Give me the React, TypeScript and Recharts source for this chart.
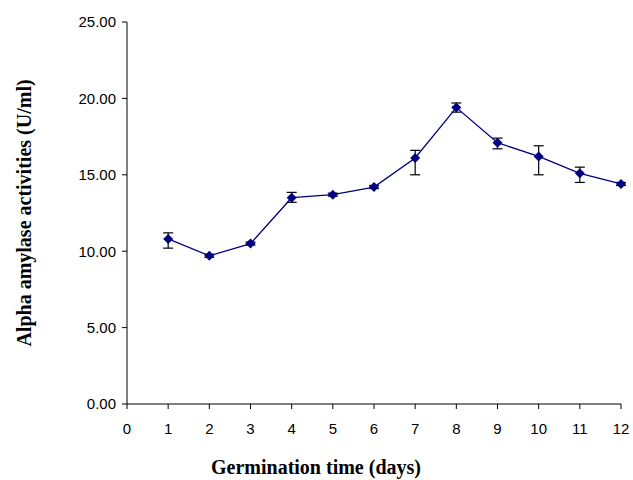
import React from "react";
import { LineChart, Line, XAxis, YAxis, ErrorBar } from "recharts";

const days = [1, 2, 3, 4, 5, 6, 7, 8, 9, 10, 11, 12];
const activity = [10.8, 9.7, 10.5, 13.5, 13.7, 14.2, 16.1, 19.4, 17.1, 16.2, 15.1, 14.4];
const errLow = [0.6, 0.1, 0.1, 0.3, 0.1, 0.1, 1.1, 0.3, 0.4, 1.2, 0.6, 0.1];
const errHigh = [0.4, 0.1, 0.1, 0.35, 0.1, 0.1, 0.5, 0.3, 0.3, 0.7, 0.4, 0.1];
const yTicks = [0, 5, 10, 15, 20, 25];
const xTicks = [0, 1, 2, 3, 4, 5, 6, 7, 8, 9, 10, 11, 12];

const data = days.map((d, i) => ({ day: d, value: activity[i], err: [errLow[i], errHigh[i]] }));

const Diamond = (p: any) => {
  const { cx, cy } = p;
  return <path d={`M${cx},${cy - 5}L${cx + 5},${cy}L${cx},${cy + 5}L${cx - 5},${cy}Z`} fill="#000080" />;
};

const tickStyle = { fontFamily: "Liberation Sans, Arial", fontSize: 15, fill: "#000" };

export default function App() {
  return (
    <div style={{ position: "absolute", left: 0, top: 0, background: "#fff" }}>
      <LineChart width={633} height={480} data={data} margin={{ top: 22, right: 12, bottom: 46, left: 67 }}>
        <XAxis dataKey="day" type="number" domain={[0, 12]} ticks={xTicks} height={30}
          stroke="#000" tick={tickStyle} tickLine={{ stroke: "#000" }} tickSize={5} tickMargin={14} />
        <YAxis domain={[0, 25]} ticks={yTicks} width={60} stroke="#000" tick={tickStyle}
          tickFormatter={(v: number) => v.toFixed(2)} tickSize={5} tickMargin={6} />
        <Line dataKey="value" stroke="#000080" strokeWidth={1.3} dot={<Diamond />} isAnimationActive={false}>
          <ErrorBar dataKey="err" width={5} stroke="#000" strokeWidth={1.2} />
        </Line>
        <text x={316} y={474} textAnchor="middle" fontFamily="Liberation Serif, Times New Roman" fontWeight="bold" fontSize={20}>
          Germination time (days)
        </text>
        <text x={0} y={0} transform="translate(31,213) rotate(-90)" textAnchor="middle"
          fontFamily="Liberation Serif, Times New Roman" fontWeight="bold" fontSize={20}>
          Alpha amylase activities (U/ml)
        </text>
      </LineChart>
    </div>
  );
}
